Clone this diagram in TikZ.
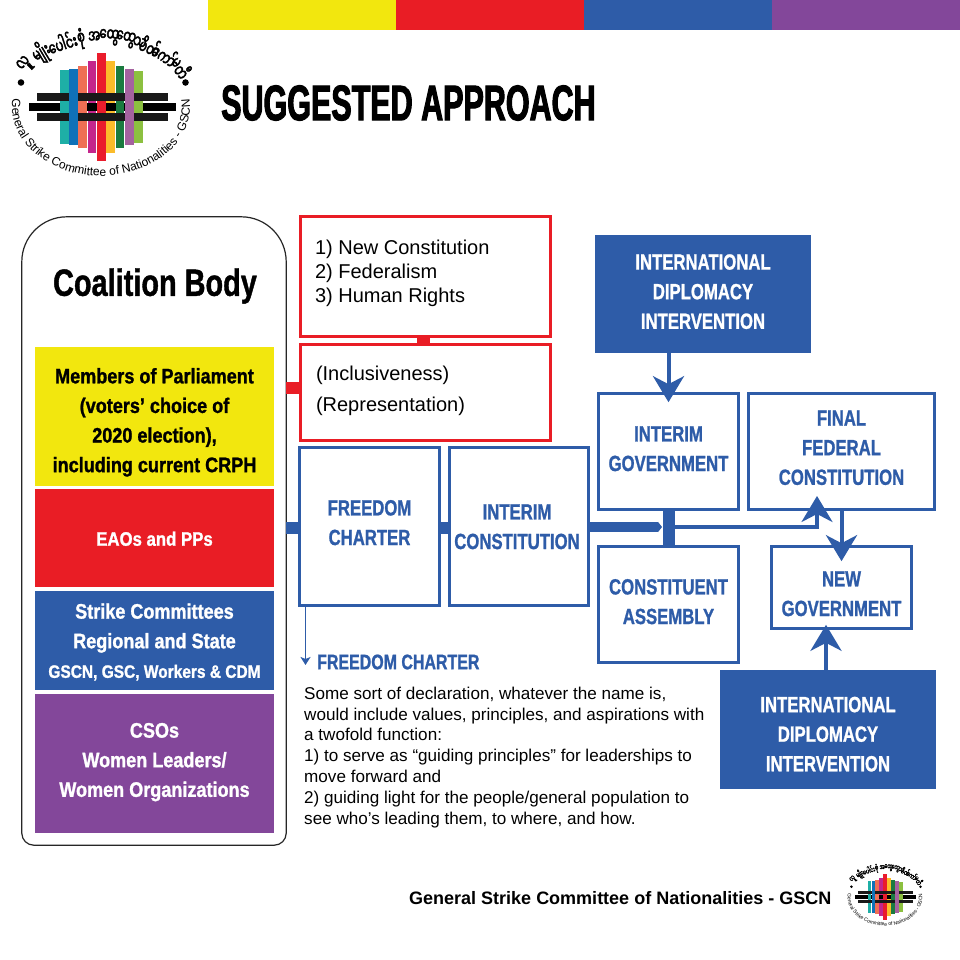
\documentclass[tikz,border=0pt]{standalone}
\usepackage{fontspec}
\usetikzlibrary{arrows.meta,decorations.text}
\setmainfont{Liberation Sans}
\newfontfamily\condA[FakeStretch=0.76,FakeBold=1.0]{Liberation Sans}
\newfontfamily\condL[FakeStretch=0.86,FakeBold=1.2]{Liberation Sans}
\newfontfamily\condT[FakeStretch=0.61,FakeBold=2]{Liberation Sans}
\newfontfamily\burm[Script=Myanmar,FakeStretch=0.64,FakeBold=2.5]{Noto Sans Myanmar UI}
\definecolor{cyel}{HTML}{F2E70E}
\definecolor{cred}{HTML}{E91D25}
\definecolor{cblue}{HTML}{2E5CA8}
\definecolor{cpur}{HTML}{83479A}
\definecolor{lteal}{HTML}{1EAFA6}
\definecolor{lblue}{HTML}{0F71B8}
\definecolor{lorg}{HTML}{EF6F54}
\definecolor{lmag}{HTML}{C4268C}
\definecolor{lred}{HTML}{EA1C2C}
\definecolor{lyel}{HTML}{FBBC2B}
\definecolor{lgrn}{HTML}{1B7B40}
\definecolor{lpur}{HTML}{A5629F}
\definecolor{llim}{HTML}{8CC040}
\newcommand\TL[2][0pt]{\raisebox{\dimexpr#1-7pt\relax}[0pt][0pt]{\begin{tabular}{@{}c@{}}#2\end{tabular}}}
\newcommand\BL[3]{\makebox[#1][l]{\raisebox{\dimexpr#2-7pt\relax}[0pt][0pt]{\begin{tabular}{@{}l@{}}#3\end{tabular}}}}
\tikzset{
  bluebox/.style={draw=cblue,line width=2.6pt,fill=white,inner sep=0pt,text=cblue,
    font=\condA\bfseries\fontsize{22}{29.6}\selectfont},
  blueblock/.style={fill=cblue,inner sep=0pt,text=white,
    font=\condA\bfseries\fontsize{22}{29.6}\selectfont},
  redbox/.style={draw=cred,line width=3pt,fill=white,inner sep=0pt,text=black},
  panel/.style={inner sep=0pt,font=\condL\bfseries\fontsize{21}{29.6}\selectfont},
  head/.style={-{Stealth[length=26pt,width=31pt,inset=8pt]},draw=cblue,line width=4pt},
  stub/.style={line width=12pt},
}
\newcommand\GSCNlogo[4]{% name, cx, cy, scale
  \pgfmathsetmacro\lfs{12*#4}
  \pgfmathsetmacro\bfs{18*#4}
  \begin{scope}[shift={(#2,#3)},x=#4pt,y=#4pt]
    \foreach \xa/\ya/\c in {-41/37/lteal,-31.7/38.4/lblue,-22.7/41.3/lorg,-13.3/46.3/lmag,-4/54/lred,5.3/46.3/lyel,14.7/41.3/lgrn,24/38.4/lpur,33.3/36/llim}
      \fill[\c] (\xa,\ya) rectangle ++(8.6,-2*\ya);
    \fill[black!90] (-64.3,14.3) rectangle (67,6.3);
    \fill[black!90] (-64.3,-6.3) rectangle (67,-14.3);
    \fill[black] (-71.7,4.3) rectangle (74.7,-4.3);
    \foreach \xa/\c in {-41/lteal,-22.7/lorg,-4/lred,14.7/lgrn,33.3/llim}
      \fill[\c] (\xa,4.3) rectangle ++(8.6,-8.6);
    \fill[lblue] (-31.7,38.4) rectangle ++(8.6,-76.8);
    \fill[lpur] (24,38.4) rectangle ++(8.6,-76.8);
    \fill[black] (-80,24.5) circle[radius=3.3];
    \fill[black] (84.5,24.5) circle[radius=3.3];
    \path[decorate,decoration={text along path,text align=center,
      text={|\fontsize{\lfs}{\lfs}\selectfont|General Strike Committee of Nationalities - GSCN}}]
      (170:89 and 69) arc[start angle=170,end angle=370,x radius=89,y radius=69];
    \foreach \t/\cl [count=\i] in {143/လူ,129/မျိုး,114/ပေါင်း,102/စုံ,94/အ,85/ထွေ,75/ထွေ,66/သ,59/ပိတ်,48/ကော်,38.5/မ,31/တီ}{
      \pgfmathsetmacro\rr{atan2(-70*cos(\t),95*sin(\t))}
      \node[inner sep=0pt,rotate=\rr,font=\burm\fontsize{\bfs}{\bfs}\selectfont] (#1-b\i) at (\t:95 and 70) {\cl};
    }
  \end{scope}
}
\begin{document}
\begin{tikzpicture}[x=1pt,y=-1pt]
\useasboundingbox (0,0) rectangle (960,960);
\fill[white] (0,0) rectangle (960,960);
% top strip
\fill[cyel] (208,0) rectangle (396,30);
\fill[cred] (396,0) rectangle (584,30);
\fill[cblue] (584,0) rectangle (772,30);
\fill[cpur] (772,0) rectangle (960,30);
\GSCNlogo{big}{101}{107}{1}
\node[anchor=west,inner sep=0pt,font=\condT\bfseries\fontsize{50}{50}\selectfont] (title) at (221,103) {SUGGESTED APPROACH};
% coalition outline
\node[minimum width=264pt,minimum height=628pt,inner sep=0pt] (coal) at (154,531) {};
\draw[line width=1.2pt,black!85] ([yshift=12pt]coal.south west) -- ([yshift=-45pt]coal.north west)
  arc[start angle=180,end angle=270,radius=45] -- ([xshift=-45pt]coal.north east)
  arc[start angle=270,end angle=360,radius=45] -- ([yshift=12pt]coal.south east)
  arc[start angle=0,end angle=90,radius=12] -- ([xshift=12pt]coal.south west)
  arc[start angle=90,end angle=180,radius=12];
\node[inner sep=0pt,font=\condA\bfseries\fontsize{38}{38}\selectfont] (ctitle) at (155,286) {Coalition Body};
\node[panel,fill=cyel,minimum width=239pt,minimum height=139pt] (p1) at (154.5,416.5) {\TL[-3.5pt]{Members of Parliament\\(voters’ choice of\\2020 election),\\including current CRPH}};
\node[panel,fill=cred,text=white,minimum width=239pt,minimum height=98pt] (p2) at (154.5,538) {\TL{\fontsize{19.5}{29.6}\selectfont EAOs and PPs}};
\node[panel,fill=cblue,text=white,minimum width=239pt,minimum height=99pt] (p3) at (154.5,640.5) {\TL{Strike Committees\\Regional and State\\{\fontsize{18}{29.6}\selectfont GSCN, GSC, Workers \& CDM}}};
\node[panel,fill=cpur,text=white,minimum width=239pt,minimum height=139pt] (p4) at (154.5,763.5) {\TL[4pt]{CSOs\\Women Leaders/\\Women Organizations}};
% red boxes
\node[redbox,minimum width=250pt,minimum height=120pt,font=\fontsize{20}{24}\selectfont] (r1) at (425,276) {\BL{220pt}{4pt}{1) New Constitution\\2) Federalism\\3) Human Rights}};
\node[redbox,minimum width=250pt,minimum height=96pt,font=\fontsize{20}{31}\selectfont] (r2) at (425,392) {\BL{218pt}{4.5pt}{(Inclusiveness)\\(Representation)}};
\draw[cred,line width=13pt] ([xshift=-2pt]r1.south) -- ([xshift=-2pt]r2.north);
\draw[cred,stub] (coal.east |- 0,388) -- (r2.west |- 0,388);
% blue flow boxes
\node[bluebox,minimum width=140pt,minimum height=158pt] (fc) at (369.5,526.5) {\TL[4pt]{FREEDOM\\CHARTER}};
\node[bluebox,minimum width=139pt,minimum height=158pt] (ic) at (519,526.5) {\TL{\hspace*{-4pt}INTERIM\\\hspace*{-4pt}CONSTITUTION}};
\node[blueblock,minimum width=216pt,minimum height=118pt] (d1) at (703,294) {\TL[2.5pt]{INTERNATIONAL\\DIPLOMACY\\INTERVENTION}};
\node[bluebox,minimum width=140pt,minimum height=116pt] (ig) at (668.5,451.5) {\TL[3pt]{INTERIM\\GOVERNMENT}};
\node[bluebox,minimum width=186pt,minimum height=116pt] (ffc) at (841.5,451.5) {\TL[4pt]{FINAL\\FEDERAL\\CONSTITUTION}};
\node[bluebox,minimum width=140pt,minimum height=116pt] (ca) at (668.5,604.5) {\TL[3pt]{CONSTITUENT\\ASSEMBLY}};
\node[bluebox,minimum width=140pt,minimum height=82pt] (ng) at (841.5,587.5) {\TL[-6pt]{NEW\\GOVERNMENT}};
\node[blueblock,minimum width=216pt,minimum height=119pt] (d2) at (828,729.5) {\TL[-4.5pt]{INTERNATIONAL\\DIPLOMACY\\INTERVENTION}};
% connectors
\draw[cblue,stub] ([yshift=-1.5pt]coal.east |- fc.west) -- ([yshift=-1.5pt]fc.west);
\draw[cblue,stub] ([yshift=-1.5pt]fc.east) -- ([yshift=-1.5pt]ic.east -| ic.west);
\draw[cblue,line width=12pt] (ig.south) -- (ca.north);
\coordinate (jn) at (669,527);
\coordinate (jw) at (662,527);
\coordinate (ft) at (817,496);
\draw[cblue,line width=10pt,-{Triangle[length=4pt,width=10pt]}] (ic.east |- jn) -- (jw);
\draw[head,line width=3.5pt] (jn) -| (ft);
\draw[head,shorten >=-10pt] (d1.south -| ig.north) -- (ig.north);
\draw[head,shorten >=-16pt] (ffc) -- (ng);
\draw[head,shorten >=-5pt] (d2.north -| 826,0) -- (ng.south -| 826,0);
% freedom charter note
\coordinate (fe) at (305.5,665);
\draw[cblue,line width=1.5pt,-{Stealth[length=8pt,width=10pt,inset=2pt]}] (fc.south -| fe) -- (fe);
\node[anchor=west,inner sep=0pt,text=cblue,font=\condA\bfseries\fontsize{21}{21}\selectfont] (fh) at (317,662) {FREEDOM CHARTER};
\node[anchor=north west,inner sep=0pt,align=left,font=\fontsize{17.1}{20.9}\selectfont] (body) at (304,686.5) {Some sort of declaration, whatever the name is,\\would include values, principles, and aspirations with\\a twofold function:\\1) to serve as “guiding principles” for leaderships to\\move forward and\\2) guiding light for the people/general population to\\see who’s leading them, to where, and how.};
% footer
\node[anchor=west,inner sep=0pt,font=\bfseries\fontsize{18}{18}\selectfont] (foot) at (409,898) {General Strike Committee of Nationalities - GSCN};
\GSCNlogo{small}{885}{897}{0.42}
\end{tikzpicture}
\end{document}
